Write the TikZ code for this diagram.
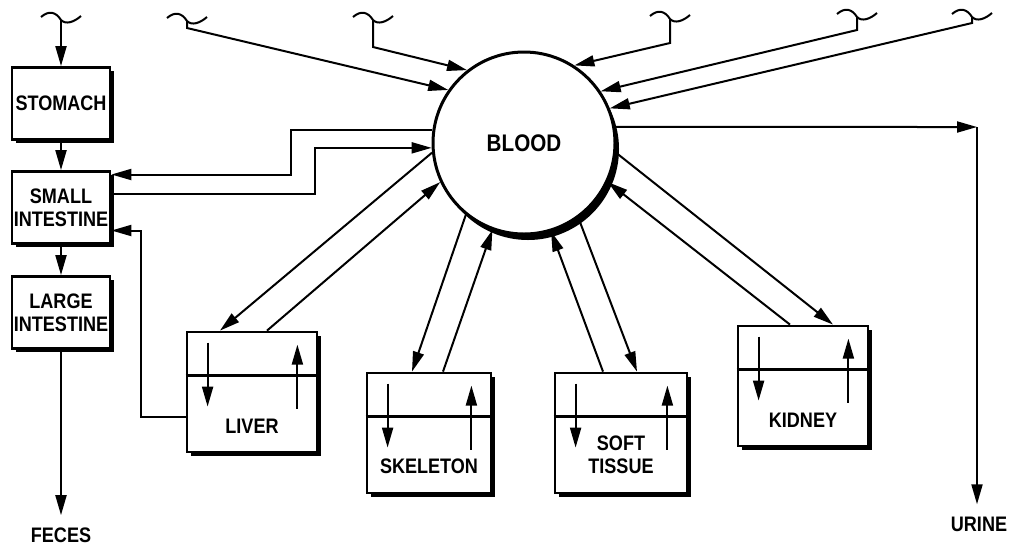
\documentclass[tikz,border=0pt]{standalone}
\usepackage{fontspec}
\newfontfamily\organfont{Liberation Sans}[FakeStretch=0.86]
\usetikzlibrary{arrows.meta,calc,shadows}
\tikzset{
	flow/.style={-{Triangle[length=10pt,width=5.5pt]}, line width=1pt},
	organ text/.style={font=\organfont\bfseries\fontsize{10.5}{11.5}\selectfont, align=center, inner sep=0pt},
	organbox/.style={draw, line width=1.4pt, fill=white, organ text, drop shadow={shadow xshift=1.8pt, shadow yshift=-1.8pt, fill=black, opacity=1}}
}
\newcommand{\compartment}[4]{
	\node[organbox, minimum width=#3, minimum height=60pt] (#1) at #2 {};
	\draw[line width=1.2pt] ($ (#1.north west) + (0,45) $) -- ($ (#1.north east) + (0,45) $);
	\draw[flow] ($ (#1.north west) + (22,12) $) -- ++(0,64);
	\draw[flow] ($ (#1.north east) + (-21,78) $) -- ++(0,-64);
	\node[organ text, anchor=south] at ($ (#1.south) + (0,-20) $) {#4};
}
\newcommand{\intake}[2]{
	\coordinate (#1) at #2;
	\draw[line width=1pt] ($ #2 + (-20,-3) $) .. controls ($ #2 + (-12,-10) $) and ($ #2 + (-5,-8) $) .. #2 .. controls ($ #2 + (5,5) $) and ($ #2 + (13,2) $) .. ($ #2 + (20,-4) $);
}
\begin{document}
\begin{tikzpicture}[x=0.5pt, y=-0.5pt]
	\useasboundingbox (0,0) rectangle (1011,548);
%
	\node[circle, draw, line width=1.5pt, fill=white, minimum size=91pt, inner sep=0pt, organ text, font=\organfont\bfseries\fontsize{12}{14}\selectfont, drop shadow={shadow xshift=2pt, shadow yshift=-3pt, fill=black, opacity=1}] (blood) at (524,143) {BLOOD};
%
	\node[organbox, minimum width=49pt, minimum height=36pt] (stomach) at (61,103.5) {STOMACH};
	\node[organbox, minimum width=49pt, minimum height=36pt] (small) at (61,207.5) {SMALL\\INTESTINE};
	\node[organbox, minimum width=49pt, minimum height=36pt] (large) at (61,312.5) {LARGE\\INTESTINE};
	\node[organ text] (feces) at (61,535) {FECES};
	\node[organ text] (urine) at (979,524) {URINE};
%
	\compartment{liver}{(252,392)}{65pt}{LIVER}
	\compartment{skeleton}{(429,433)}{62pt}{SKELETON}
	\compartment{soft}{(621,433)}{66pt}{SOFT\\TISSUE}
	\compartment{kidney}{(803,386)}{65pt}{KIDNEY}
%
	\intake{t1}{(61,20)}
	\intake{t2}{(187,21)}
	\intake{t3}{(373,20)}
	\intake{t4}{(670,19)}
	\intake{t5}{(857,17)}
	\intake{t6}{(972,17)}
	\draw[flow] (t1) -- (stomach.north);
	\draw[flow] (t2) -- ++(0,7) -- (blood.145);
	\draw[flow] (t3) -- ++(0,27) -- (blood.128);
	\draw[flow] (t4) -- ++(0,24) -- (blood.57);
	\draw[flow] (t5) -- ++(0,13) -- (blood.34);
	\draw[flow] (t6) -- ++(0,6) -- (blood.22);
%
	\draw[flow] (stomach) -- (small);
	\draw[flow] (small) -- (large);
	\draw[flow, shorten >=6pt] (large) -- (feces);
%
	\draw[flow] (blood.172) -- ++(-141,0) |- ($ (small.east) + (0,-33) $);
	\draw[flow] ($ (small.east) + (0,-14) $) -- ++(204,0) |- (blood.183);
	\draw[flow] ($ (liver.west) + (0,25) $) -- ++(-45,0) |- ($ (small.east) + (0,23) $);
%
	\draw[flow] (blood.186) -- ($ (liver.north) + (-32,0) $);
	\draw[flow] ($ (liver.north) + (15,0) $) -- (blood.205);
	\draw[flow] (blood.231) -- ($ (skeleton.north) + (-17,0) $);
	\draw[flow] ($ (skeleton.north) + (14,0) $) -- (blood.250);
	\draw[flow] ($ (soft.north) + (-18,0) $) -- (blood.287);
	\draw[flow] (blood.306) -- ($ (soft.north) + (16,0) $);
	\draw[flow] ($ (kidney.north) + (-13,0) $) -- (blood.335);
	\draw[flow] (blood.354) -- ($ (kidney.north) + (30,0) $);
%
	\coordinate (bend) at (977,127);
	\draw[flow] (blood.10) -- (bend);
	\draw[flow, shorten >=6pt] (bend) -- (bend |- urine.north);
\end{tikzpicture}
\end{document}
